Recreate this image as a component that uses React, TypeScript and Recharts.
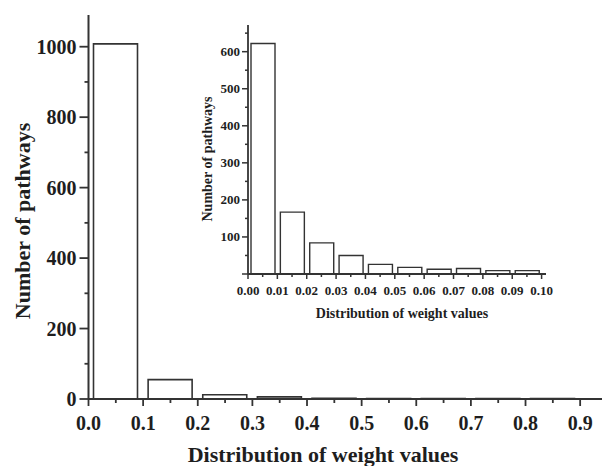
import React from 'react';
import { BarChart, Bar, XAxis, YAxis } from 'recharts';

// ---- Main histogram data ----
const mainBins = [0.05, 0.15, 0.25, 0.35, 0.45, 0.55, 0.65, 0.75, 0.85];
const mainCounts = [1008, 55, 12, 6, 2, 1, 1, 1, 1];
const mainXTicks = [0, 0.05, 0.1, 0.15, 0.2, 0.25, 0.3, 0.35, 0.4, 0.45, 0.5, 0.55, 0.6, 0.65, 0.7, 0.75, 0.8, 0.85, 0.9];
const mainYTicks = [0, 100, 200, 300, 400, 500, 600, 700, 800, 900, 1000];

// ---- Inset histogram data ----
const insetBins = [0.005, 0.015, 0.025, 0.035, 0.045, 0.055, 0.065, 0.075, 0.085, 0.095];
const insetCounts = [622, 167, 84, 50, 26, 18, 13, 15, 9, 9];
const insetXTicks = [0, 0.005, 0.01, 0.015, 0.02, 0.025, 0.03, 0.035, 0.04, 0.045, 0.05, 0.055, 0.06, 0.065, 0.07, 0.075, 0.08, 0.085, 0.09, 0.095, 0.1];
const insetYTicks = [0, 50, 100, 150, 200, 250, 300, 350, 400, 450, 500, 550, 600, 650];

const xTitle = 'Distribution of weight values';
const yTitle = 'Number of pathways';

const mainData = mainBins.map((b, i) => ({ bin: b, count: mainCounts[i] }));
const insetData = insetBins.map((b, i) => ({ bin: b, count: insetCounts[i] }));

const FONT = '"Liberation Serif", "Times New Roman", serif';
const LINE = '#333';
const TEXT = '#1e1e1e';

const MainXTick = (props: any) => {
  const { x, y, payload } = props;
  const v = payload.value;
  const major = Math.abs(v * 10 - Math.round(v * 10)) < 1e-6;
  return (
    <g>
      <line x1={x} x2={x} y1={y} y2={y + (major ? 7 : 4)} stroke={LINE} strokeWidth={1.8} />
      {major && (
        <text x={x} y={y + 24} textAnchor="middle" dominantBaseline="central" fontFamily={FONT} fontWeight="bold" fontSize={20} fill={TEXT}>
          {v.toFixed(1)}
        </text>
      )}
    </g>
  );
};

const MainYTick = (props: any) => {
  const { x, y, payload } = props;
  const v = payload.value;
  const major = v % 200 === 0;
  return (
    <g>
      <line x1={x} x2={x - (major ? 9 : 4)} y1={y} y2={y} stroke={LINE} strokeWidth={1.8} />
      {major && (
        <text x={x - 12} y={y} textAnchor="end" dominantBaseline="central" fontFamily={FONT} fontWeight="bold" fontSize={20} fill={TEXT}>
          {v}
        </text>
      )}
    </g>
  );
};

const InsetXTick = (props: any) => {
  const { x, y, payload } = props;
  const v = payload.value;
  const major = Math.round(v * 1000) % 10 === 0;
  return (
    <g>
      <line x1={x} x2={x} y1={y} y2={y + (major ? 5 : 3)} stroke={LINE} strokeWidth={1.5} />
      {major && (
        <text x={x} y={y + 16} textAnchor="middle" dominantBaseline="central" fontFamily={FONT} fontWeight="bold" fontSize={13} fill={TEXT}>
          {v.toFixed(2)}
        </text>
      )}
    </g>
  );
};

const InsetYTick = (props: any) => {
  const { x, y, payload } = props;
  const v = payload.value;
  const major = v % 100 === 0;
  return (
    <g>
      <line x1={x} x2={x - (major ? 6 : 3)} y1={y} y2={y} stroke={LINE} strokeWidth={1.5} />
      {major && v !== 0 && (
        <text x={x - 8} y={y} textAnchor="end" dominantBaseline="central" fontFamily={FONT} fontWeight="bold" fontSize={13} fill={TEXT}>
          {v}
        </text>
      )}
    </g>
  );
};

export default function App() {
  const abs: React.CSSProperties = { position: 'absolute', left: 0, top: 0 };
  return (
    <div style={{ position: 'absolute', left: 0, top: 0, width: 602, height: 466, background: '#fff', overflow: 'hidden' }}>
      <div style={abs}>
        <BarChart width={602} height={466} data={mainData} margin={{ top: 15, right: 0, bottom: 66, left: 87.5 }}>
          <XAxis
            dataKey="bin"
            type="number"
            domain={[0, 0.94]}
            ticks={mainXTicks}
            interval={0}
            height={1}
            tickSize={0}
            tickMargin={0}
            tickLine={false}
            axisLine={{ stroke: LINE, strokeWidth: 2 }}
            tick={<MainXTick />}
            allowDataOverflow
          />
          <YAxis
            type="number"
            domain={[0, 1090]}
            ticks={mainYTicks}
            interval={0}
            width={1}
            tickSize={0}
            tickMargin={0}
            tickLine={false}
            axisLine={{ stroke: LINE, strokeWidth: 2 }}
            tick={<MainYTick />}
            allowDataOverflow
          />
          <Bar dataKey="count" barSize={44} fill="#fff" stroke={LINE} strokeWidth={1.6} isAnimationActive={false} />
        </BarChart>
      </div>
      <div style={abs}>
        <BarChart width={602} height={466} data={insetData} margin={{ top: 25, right: 56, bottom: 191, left: 247 }}>
          <XAxis
            dataKey="bin"
            type="number"
            domain={[0, 0.1015]}
            ticks={insetXTicks}
            interval={0}
            height={1}
            tickSize={0}
            tickMargin={0}
            tickLine={false}
            axisLine={{ stroke: LINE, strokeWidth: 1.8 }}
            tick={<InsetXTick />}
            allowDataOverflow
          />
          <YAxis
            type="number"
            domain={[0, 672]}
            ticks={insetYTicks}
            interval={0}
            width={1}
            tickSize={0}
            tickMargin={0}
            tickLine={false}
            axisLine={{ stroke: LINE, strokeWidth: 1.8 }}
            tick={<InsetYTick />}
            allowDataOverflow
          />
          <Bar dataKey="count" barSize={24} fill="#fff" stroke={LINE} strokeWidth={1.4} isAnimationActive={false} />
        </BarChart>
      </div>
      <svg width={602} height={466} style={{ ...abs, pointerEvents: 'none' }}>
        <text x={323} y={454} textAnchor="middle" dominantBaseline="central" fontFamily={FONT} fontWeight="bold" fontSize={22} fill={TEXT}>
          {xTitle}
        </text>
        <text x={22} y={221} transform="rotate(-90 22 221)" textAnchor="middle" dominantBaseline="central" fontFamily={FONT} fontWeight="bold" fontSize={22} fill={TEXT}>
          {yTitle}
        </text>
        <text x={402} y={313} textAnchor="middle" dominantBaseline="central" fontFamily={FONT} fontWeight="bold" fontSize={14} fill={TEXT}>
          {xTitle}
        </text>
        <text x={207} y={159} transform="rotate(-90 207 159)" textAnchor="middle" dominantBaseline="central" fontFamily={FONT} fontWeight="bold" fontSize={14} fill={TEXT}>
          {yTitle}
        </text>
      </svg>
    </div>
  );
}
